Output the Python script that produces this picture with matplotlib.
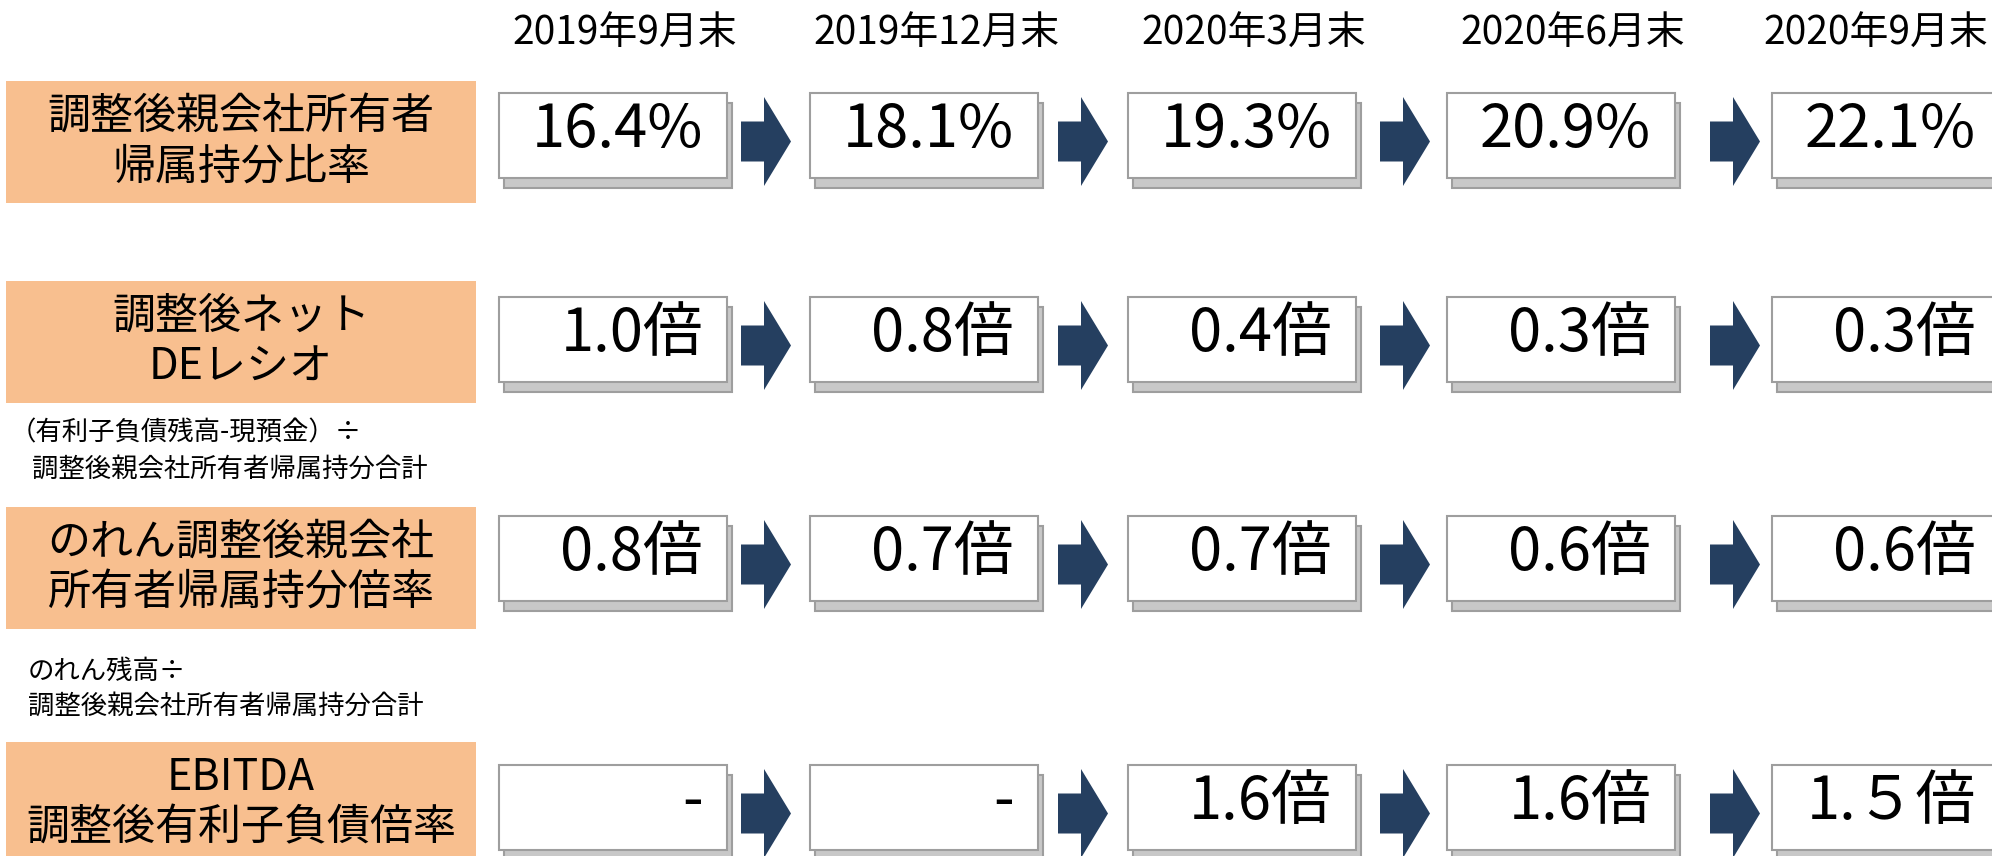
import matplotlib
matplotlib.use("Agg")
import matplotlib.pyplot as plt
from matplotlib.patches import Rectangle, Polygon

plt.rcParams["font.family"] = ["Noto Sans CJK JP", "DejaVu Sans"]

# ---------------------------------------------------------------
# Datos
# ---------------------------------------------------------------
fechas = ["2019年9月末", "2019年12月末", "2020年3月末", "2020年6月末", "2020年9月末"]

indicadores = [
    "調整後親会社所有者\n帰属持分比率",
    "調整後ネット\nDEレシオ",
    "のれん調整後親会社\n所有者帰属持分倍率",
    "EBITDA\n調整後有利子負債倍率",
]

ratio_capital = ["16.4%", "18.1%", "19.3%", "20.9%", "22.1%"]
ratio_de_neto = ["1.0倍", "0.8倍", "0.4倍", "0.3倍", "0.3倍"]
ratio_goodwill = ["0.8倍", "0.7倍", "0.7倍", "0.6倍", "0.6倍"]
ratio_ebitda = ["-", "-", "1.6倍", "1.6倍", "1.５倍"]
valores = [ratio_capital, ratio_de_neto, ratio_goodwill, ratio_ebitda]

notas = [
    ("（有利子負債残高-現預金）÷", "調整後親会社所有者帰属持分合計"),
    ("のれん残高÷", "調整後親会社所有者帰属持分合計"),
]

# ---------------------------------------------------------------
# Layout (pixels, origin top-left)
# ---------------------------------------------------------------
W, H = 1992, 856
ETIQ_X, ETIQ_W, ETIQ_H = 6, 470, 122
ETIQ_TOP = [81, 281, 507, 742]
CAJA_TOP = [93, 297, 516, 765]
CAJA_H, CAJA_W = 85, 228
CAJA_X = [499, 810, 1128, 1447, 1772]
FLECHA_X = [741, 1058, 1380, 1710]

NARANJA = "#F8BF8F"
AZUL = "#253F60"
GRIS_SOMBRA = "#C8C8C8"
GRIS_BORDE = "#9E9E9E"

fig = plt.figure(figsize=(W / 100, H / 100), dpi=100)
ax = fig.add_axes([0, 0, 1, 1])
ax.set_xlim(0, W)
ax.set_ylim(H, 0)
ax.axis("off")

# cabeceras de fecha (la última se pega al borde derecho para que no se corte)
for k, (x, fecha) in enumerate(zip(CAJA_X, fechas)):
    if k == len(fechas) - 1:
        ax.text(W - 4, 34, fecha, ha="right", va="center", fontsize=28)
    else:
        ax.text(x + CAJA_W / 2 + 12, 34, fecha, ha="center", va="center",
                fontsize=28)


def flecha(ax, x, yc):
    w, h = 50, 89
    cuerpo_w, cuerpo_h = 23, 40
    pts = [
        (x, yc - cuerpo_h / 2),
        (x + cuerpo_w, yc - cuerpo_h / 2),
        (x + cuerpo_w, yc - h / 2),
        (x + w, yc),
        (x + cuerpo_w, yc + h / 2),
        (x + cuerpo_w, yc + cuerpo_h / 2),
        (x, yc + cuerpo_h / 2),
    ]
    ax.add_patch(Polygon(pts, closed=True, facecolor=AZUL, edgecolor="none"))


for i, etiqueta in enumerate(indicadores):
    # caja naranja con el nombre del indicador
    ax.add_patch(Rectangle((ETIQ_X, ETIQ_TOP[i]), ETIQ_W, ETIQ_H,
                           facecolor=NARANJA, edgecolor="none"))
    ax.text(ETIQ_X + ETIQ_W / 2, ETIQ_TOP[i] + ETIQ_H / 2, etiqueta,
            ha="center", va="center", fontsize=31, linespacing=1.2)

    top = CAJA_TOP[i]
    for j, valor in enumerate(valores[i]):
        x = CAJA_X[j]
        # sombra
        ax.add_patch(Rectangle((x + 5, top + 10), CAJA_W, CAJA_H,
                               facecolor=GRIS_SOMBRA, edgecolor=GRIS_BORDE, lw=1.5))
        ax.add_patch(Rectangle((x, top), CAJA_W, CAJA_H,
                               facecolor="white", edgecolor=GRIS_BORDE, lw=1.5))
        ax.text(x + CAJA_W - 24, top + CAJA_H / 2 - 5, valor,
                ha="right", va="center", fontsize=43)
    for j, fx in enumerate(FLECHA_X):
        flecha(ax, fx, top + CAJA_H / 2 + 6)

# notas explicativas
ax.text(10, 433, notas[0][0], ha="left", va="center", fontsize=19)
ax.text(32, 469, notas[0][1], ha="left", va="center", fontsize=19)
ax.text(28, 671, notas[1][0], ha="left", va="center", fontsize=19)
ax.text(28, 706, notas[1][1], ha="left", va="center", fontsize=19)

fig.savefig("out.png", dpi=100)
plt.close(fig)
